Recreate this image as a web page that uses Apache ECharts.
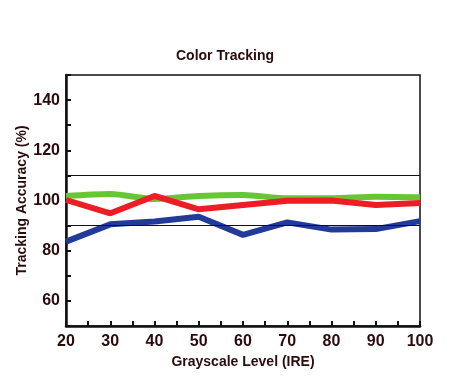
<!DOCTYPE html>
<html><head><meta charset="utf-8">
<script src="https://cdn.jsdelivr.net/npm/echarts@6/dist/echarts.min.js"></script>
<style>html,body{margin:0;padding:0;background:#fff}#c{width:450px;height:384px}</style>
</head><body><div id="c"></div>
<script>
var levels = [20, 30, 40, 50, 60, 70, 80, 90, 100];
var redValues = [100.2, 94.9, 101.8, 96.5, 98.2, 99.9, 100.0, 98.2, 99.0];
var greenValues = [101.8, 102.6, 100.6, 101.8, 102.2, 100.9, 100.9, 101.5, 101.3];
var blueValues = [83.6, 90.5, 91.6, 93.5, 86.3, 91.3, 88.4, 88.6, 91.8];
var refLines = [110, 90];
var yLabels = [60, 80, 100, 120, 140];
var xLabels = [20, 30, 40, 50, 60, 70, 80, 90, 100];

var txt = '#2a0c0c';
var font = 'Liberation Sans';
function pairs(v){ return levels.map(function(x,i){ return [x, v[i]]; }); }
var chart = echarts.init(document.getElementById('c'), null, {renderer:'canvas'});
chart.setOption({
  animation:false,
  backgroundColor:'#fff',
  title:{text:'Color Tracking', left:'center', top:44, textStyle:{fontFamily:font, fontSize:14, fontWeight:'bold', color:txt}},
  grid:{left:66, right:30, top:75, bottom:58, show:true, borderColor:'#111', borderWidth:1.5, backgroundColor:'transparent'},
  xAxis:{type:'value', min:20, max:100, interval:5,
    name:'Grayscale Level (IRE)', nameLocation:'middle', nameGap:29, nameMoveOverlap:false,
    nameTextStyle:{fontFamily:font, fontSize:14, fontWeight:'bold', color:txt},
    axisLine:{show:true, lineStyle:{color:'#111', width:2.5}},
    axisTick:{show:true, inside:true, length:5, lineStyle:{color:'#111', width:2}},
    splitLine:{show:false},
    axisLabel:{fontFamily:font, fontSize:16, fontWeight:'bold', color:txt, margin:8,
      formatter:function(v){ return xLabels.indexOf(v)>=0 ? String(v) : ''; }}
  },
  yAxis:{type:'value', min:50, max:150, interval:10,
    name:'Tracking Accuracy (%)', nameLocation:'middle', nameGap:44, nameMoveOverlap:false,
    nameTextStyle:{fontFamily:font, fontSize:14, fontWeight:'bold', color:txt, verticalAlign:'middle'},
    axisLine:{show:true, lineStyle:{color:'#111', width:2.5}},
    axisTick:{show:true, inside:true, length:5, lineStyle:{color:'#111', width:2}},
    splitLine:{show:false},
    axisLabel:{fontFamily:font, fontSize:16, fontWeight:'bold', color:txt, margin:6,
      formatter:function(v){ return yLabels.indexOf(v)>=0 ? String(v) : ''; }}
  },
  series:[
    {type:'line', data:pairs(greenValues), symbol:'none', smooth:0.3, lineStyle:{color:'#66c633', width:6},
      markLine:{silent:true, symbol:'none', label:{show:false}, lineStyle:{color:'#111', width:1.2, type:'solid'},
        data:refLines.map(function(v){ return {yAxis:v}; })}},
    {type:'line', data:pairs(blueValues), symbol:'none', lineStyle:{color:'#233b98', width:6}},
    {type:'line', data:pairs(redValues), symbol:'none', lineStyle:{color:'#ee1c24', width:6}}
  ]
});
</script></body></html>
